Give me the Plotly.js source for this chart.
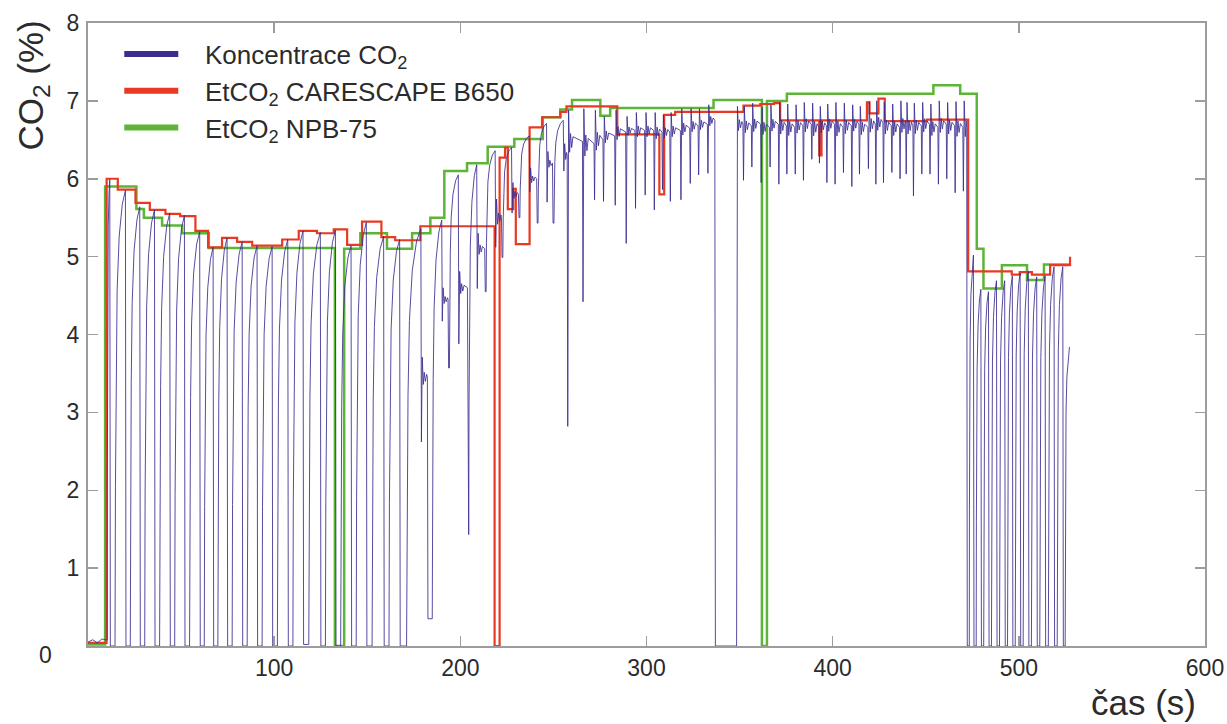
<!DOCTYPE html>
<html><head><meta charset="utf-8">
<script src="https://cdn.plot.ly/plotly-3.0.1.min.js"></script>
<style>html,body{margin:0;padding:0;background:#fff}#chart{width:1227px;height:724px}</style>
</head><body><div id="chart"></div>
<script>
// ---------- data ----------
// EtCO2 CARESCAPE B650 (step starts: time s, value %)
const redT = [0, 10.0, 16.0, 25.5, 33.2, 41.6, 49.5, 57.7, 64.5, 72.0, 80.1, 88.2, 104.3, 113.2, 123.0, 132.0, 139.2, 147.2, 157.6, 165.0, 178.5, 218.4, 221.1, 224.0, 225.5, 228.4, 229.8, 237.2, 243.9, 253.7, 257.0, 284.3, 306.9, 309.5, 315.4, 352.1, 361.1, 368.5, 371.8, 392.8, 394.0, 418.4, 419.8, 424.6, 428.0, 450.6, 472.8, 496.2, 500.5, 507.0, 516.8, 527.5];
const redV = [0.04, 6.00, 5.86, 5.69, 5.60, 5.55, 5.52, 5.33, 5.12, 5.24, 5.19, 5.14, 5.22, 5.33, 5.30, 5.35, 5.15, 5.45, 5.25, 5.21, 5.39, 0.00, 6.27, 6.40, 5.61, 5.87, 5.16, 6.66, 6.79, 6.86, 6.93, 6.57, 5.80, 6.82, 6.86, 6.94, 6.96, 6.97, 6.75, 6.30, 6.75, 6.98, 6.84, 7.03, 6.74, 6.76, 4.81, 4.77, 4.80, 4.77, 4.89, 5.00];

// EtCO2 NPB-75 (step starts)
const greenT = [0, 9.2, 26.0, 30.0, 39.8, 50.6, 64.9, 132.6, 137.6, 146.3, 160.6, 174.1, 183.9, 191.4, 203.6, 214.7, 229.0, 244.3, 253.7, 260.0, 275.2, 280.5, 336.0, 362.0, 364.7, 375.4, 454.1, 468.5, 477.4, 481.0, 490.9, 504.4, 513.5, 527.1];
const greenV = [0.02, 5.90, 5.61, 5.50, 5.40, 5.30, 5.11, 0.00, 5.10, 5.30, 5.10, 5.30, 5.50, 6.10, 6.20, 6.41, 6.51, 6.79, 6.89, 7.01, 6.81, 6.91, 7.01, 0.00, 7.00, 7.09, 7.20, 7.09, 5.10, 4.59, 4.89, 4.70, 4.90, 4.90];

// Koncentrace CO2 - baseline before the first breath
const blueLeadT = [0, 2.5, 5.0, 7.5, 9.3];
const blueLeadV = [0.05, 0.08, 0.04, 0.09, 0.08];
// one entry per breath: time of the dip, dip value, value reached after it,
// plateau level after the peak (null = classic capnogram rise up to the next dip)
const dipT = [9.6, 12.0, 20.4, 28.1, 36.0, 44.2, 52.1, 60.3, 67.5, 75.0, 83.1, 91.1, 99.2, 107.6, 115.8, 125.1, 133.2, 141.6, 149.8, 159.1, 167.7,
  179.1, 182.6, 190.3, 193.7, 199.2, 204.1, 209.1, 213.4, 219.0, 222.4, 227.8, 231.5, 237.3, 241.3, 246.6, 249.8, 255.6, 257.7,
  265.9, 272.1, 276.9, 283.2, 289.1, 294.1, 299.3, 304.2, 308.6, 312.8, 318.5, 323.5, 328.0, 333.0, 337.0, 348.4,
  352.1, 356.6, 361.6, 366.4, 371.1, 375.4, 379.9, 384.3, 388.8, 392.9, 396.9, 401.3, 405.8, 410.3, 414.4, 419.2, 423.2, 427.3, 431.8, 436.2, 439.5, 443.4, 447.9, 452.3, 456.8, 461.3, 465.8, 470.2,
  472.3, 475.9, 479.9, 484.0, 488.3, 492.7, 496.8, 501.0, 505.4, 509.9, 514.4, 519.2, 523.9];
const dipV = [0.08, 0.0, 0.0, 0.0, 0.0, 0.0, 0.0, 0.0, 0.0, 0.0, 0.0, 0.0, 0.0, 0.0, 0.02, 0.0, 0.0, 0.0, 0.0, 0.0, 0.0,
  2.62, 0.35, 4.17, 3.57, 3.88, 1.43, 4.59, 4.55, 5.12, 4.99, 5.56, 5.50, 5.83, 5.43, 5.70, 5.43, 6.10, 2.82,
  4.42, 5.73, 5.71, 5.66, 5.17, 5.62, 5.79, 5.60, 5.86, 5.71, 5.73, 5.94, 6.05, 6.07, 0.00, 0.00,
  5.98, 6.15, 5.95, 6.15, 5.93, 6.06, 6.06, 5.98, 6.25, 6.20, 5.95, 5.93, 6.08, 5.90, 6.06, 6.13, 5.93, 5.95, 6.08, 6.00, 6.06, 5.78, 6.06, 6.06, 5.93, 6.00, 5.82, 5.84,
  0.0, 0.0, 0.0, 0.0, 0.0, 0.0, 0.0, 0.0, 0.0, 0.0, 0.0, 0.0, 0.0];
const peakV = [5.99, 5.85, 5.64, 5.60, 5.56, 5.53, 5.32, 5.12, 5.24, 5.19, 5.14, 5.13, 5.22, 5.33, 5.31, 5.34, 5.14, 5.44, 5.26, 5.22, 5.36,
  3.71, 5.47, 4.60, 6.05, 4.81, 6.18, 5.30, 6.36, 5.74, 6.40, 5.95, 6.55, 6.14, 6.71, 6.35, 6.75, 6.45, 6.88,
  6.90, 6.88, 6.80, 6.88, 6.80, 6.85, 6.85, 6.85, 6.82, 6.85, 6.90, 6.90, 6.90, 6.95, 0.00, 6.93,
  6.93, 6.97, 6.92, 6.95, 6.98, 6.96, 6.95, 6.98, 6.97, 6.93, 6.96, 6.98, 6.97, 6.95, 6.93, 6.99, 7.00, 6.98, 6.96, 7.00, 6.98, 6.97, 6.98, 6.96, 7.00, 6.98, 6.99, 7.00,
  5.02, 4.58, 4.55, 4.69, 4.69, 4.75, 4.79, 4.81, 4.74, 4.75, 4.87, 4.87, 3.84];
const plateauV = [null, null, null, null, null, null, null, null, null, null, null, null, null, null, null, null, null, null, null, null, null,
  3.45, null, 4.45, null, 4.60, null, 5.10, null, 5.50, null, 5.80, null, 6.00, null, 6.20, null, 6.30, 6.48,
  6.45, 6.50, 6.55, 6.60, 6.62, 6.62, 6.62, 6.60, 6.60, 6.62, 6.65, 6.68, 6.70, 6.75, 0.00, 6.70,
  6.68, 6.70, 6.66, 6.70, 6.68, 6.66, 6.68, 6.70, 6.66, 6.68, 6.70, 6.66, 6.68, 6.70, 6.66, 6.70, 6.72, 6.68, 6.66, 6.70, 6.68, 6.68, 6.70, 6.66, 6.70, 6.68, 6.66, 6.66,
  null, null, null, null, null, null, null, null, null, null, null, null, null];
const blueEndT = 527.2;

const xTicks = [100, 200, 300, 400, 500, 600];
const yTicks = [1, 2, 3, 4, 5, 6, 7, 8];

// ---------- waveform shape of one breath ----------
const riseShape = [[0, 0], [0.04, 0.35], [0.1, 0.6], [0.2, 0.78], [0.4, 0.9], [0.7, 0.97], [1, 1]];
const wiggleShape = [[1.0, -0.35], [1.5, 0.25], [2.1, -0.2], [2.8, 0.15]];

function buildBlue() {
  const xs = blueLeadT.slice(), ys = blueLeadV.slice();
  for (let i = 0; i < dipT.length; i++) {
    const d = dipT[i], m = dipV[i], p = peakV[i], L = plateauV[i];
    const last = i + 1 >= dipT.length;
    const next = last ? blueEndT : dipT[i + 1];
    const top = last ? next : next - 0.3;
    xs.push(d); ys.push(m);
    if (L === null) {
      const hold = d + (m < 0.5 ? 0.3 : 0.08) * (next - d);
      xs.push(hold); ys.push(m);
      const dur = top - hold;
      for (let k = 1; k < riseShape.length; k++) {
        xs.push(hold + riseShape[k][0] * dur);
        ys.push(m + riseShape[k][1] * (p - m));
      }
    } else {
      xs.push(d + 0.45); ys.push(p);
      for (const [dt, f] of wiggleShape) {
        if (d + dt < top - 0.1) { xs.push(d + dt); ys.push(L + f * (p - L)); }
      }
      xs.push(top); ys.push(L);
    }
  }
  return { xs, ys };
}
const blue = buildBlue();

const FONT = '"Liberation Sans", Arial, Helvetica, sans-serif';
const TXT = '#2b2b2b';
const BLUE = '#3a2d8f', RED = '#e83a23', GREEN = '#5cb536';
const PAD = '\u00a0\u00a0\u00a0';

const traces = [
  { x: greenT, y: greenV, mode: 'lines', line: { color: GREEN, width: 2.5, shape: 'hv' }, showlegend: false, hoverinfo: 'skip' },
  { x: redT, y: redV, mode: 'lines', line: { color: RED, width: 2.2, shape: 'hv' }, showlegend: false, hoverinfo: 'skip' },
  { x: blue.xs, y: blue.ys, mode: 'lines', line: { color: BLUE, width: 1 }, opacity: 0.85, showlegend: false, hoverinfo: 'skip' },
  { x: [null], y: [null], mode: 'lines', line: { color: BLUE, width: 6 }, name: PAD + 'Koncentrace CO<sub>2</sub>', legendgroup: 'a' },
  { x: [null], y: [null], mode: 'lines', line: { color: RED, width: 6 }, name: PAD + 'EtCO<sub>2</sub> CARESCAPE B650', legendgroup: 'b' },
  { x: [null], y: [null], mode: 'lines', line: { color: GREEN, width: 6 }, name: PAD + 'EtCO<sub>2</sub> NPB-75', legendgroup: 'c' }
];

const axisCommon = {
  showgrid: false, zeroline: false, showline: true, linecolor: '#9c9c9c', linewidth: 2,
  mirror: 'ticks', ticks: 'inside', ticklen: 10, tickwidth: 1.5, tickcolor: '#9c9c9c',
  tickfont: { family: FONT, size: 23, color: TXT }, fixedrange: true
};

const layout = {
  width: 1227, height: 724,
  margin: { l: 88, r: 22, t: 23, b: 78 },
  paper_bgcolor: '#ffffff', plot_bgcolor: '#ffffff',
  font: { family: FONT, color: TXT },
  showlegend: true,
  legend: {
    x: 0.028, y: 0.988, xanchor: 'left', yanchor: 'top',
    font: { family: FONT, size: 26, color: TXT },
    bgcolor: 'rgba(0,0,0,0)', itemwidth: 54, tracegroupgap: 0
  },
  xaxis: Object.assign({}, axisCommon, { range: [0, 600], tickvals: xTicks, ticktext: xTicks.map(String) }),
  yaxis: Object.assign({}, axisCommon, { range: [0, 8], tickvals: yTicks, ticktext: yTicks.map(String), ticklabelstandoff: 2 }),
  annotations: [
    { text: '0', xref: 'paper', yref: 'paper', x: -0.038, y: -0.014, showarrow: false, xanchor: 'center', yanchor: 'middle', font: { family: FONT, size: 23, color: TXT } },
    { text: 'CO<sub>2</sub> (%)', xref: 'paper', yref: 'paper', x: -0.049, y: 0.90, showarrow: false, textangle: -90, xanchor: 'center', yanchor: 'middle', font: { family: FONT, size: 35, color: TXT } },
    { text: 'čas (s)', xref: 'paper', yref: 'paper', x: 0.9445, y: -0.091, showarrow: false, xanchor: 'center', yanchor: 'middle', font: { family: FONT, size: 35, color: TXT } }
  ]
};

Plotly.newPlot('chart', traces, layout, { displayModeBar: false, staticPlot: true });
</script></body></html>
